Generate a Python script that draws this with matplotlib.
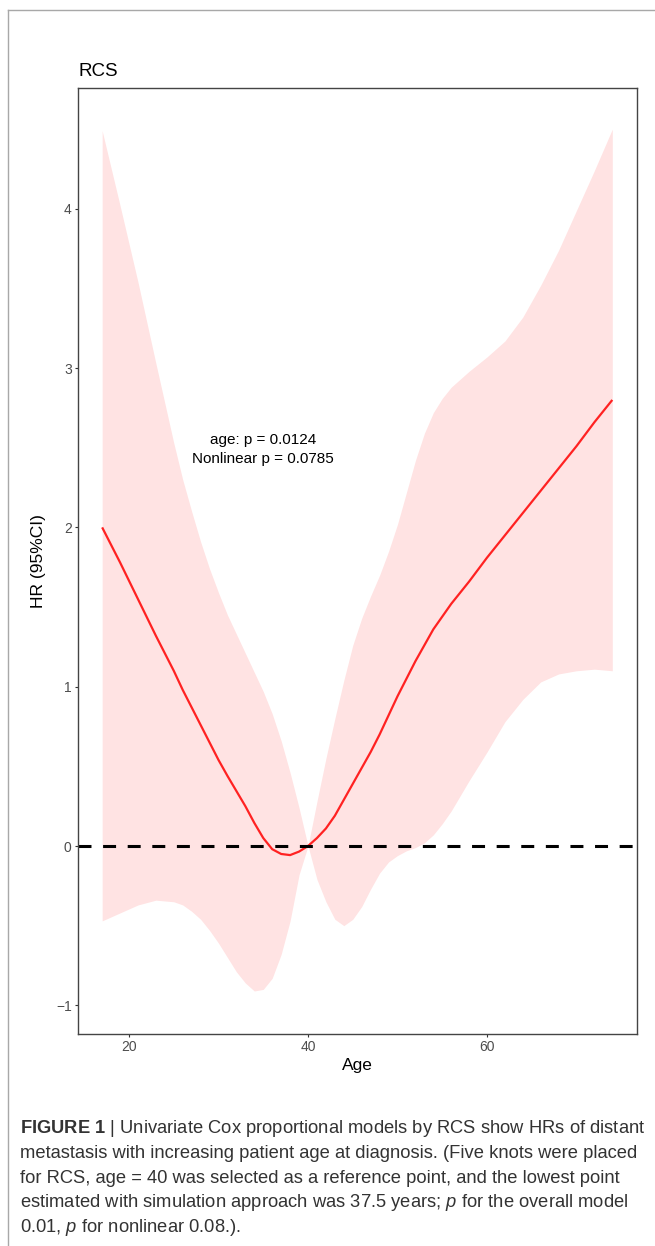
import matplotlib
matplotlib.use("Agg")
import matplotlib.pyplot as plt
from matplotlib.lines import Line2D

plt.rcParams['font.family'] = ['Liberation Sans', 'DejaVu Sans']
plt.rcParams['mathtext.fontset'] = 'custom'
plt.rcParams['mathtext.rm'] = 'Liberation Sans'
plt.rcParams['mathtext.it'] = 'Liberation Sans:italic'
plt.rcParams['mathtext.bf'] = 'Liberation Sans:bold'

# ---- data ----
age = [17, 19, 21, 23, 25, 26, 27, 28, 29, 30, 31, 32, 33, 34, 35, 36, 37, 38, 39, 40,
       41, 42, 43, 44, 45, 46, 47, 48, 49, 50, 51, 52, 53, 54, 55, 56, 58, 60, 62, 64,
       66, 68, 70, 72, 74]
hr_fit = [2.00, 1.78, 1.55, 1.32, 1.10, 0.98, 0.87, 0.76, 0.65, 0.54, 0.44, 0.345, 0.25, 0.145, 0.05, -0.02, -0.05, -0.057, -0.035, 0.00,
          0.05, 0.11, 0.19, 0.29, 0.39, 0.49, 0.59, 0.70, 0.82, 0.94, 1.05, 1.16, 1.26, 1.36, 1.44, 1.52, 1.66, 1.81, 1.95, 2.09,
          2.23, 2.37, 2.51, 2.66, 2.80]
hr_upper = [4.49, 4.02, 3.54, 3.03, 2.53, 2.30, 2.10, 1.91, 1.74, 1.59, 1.45, 1.33, 1.21, 1.09, 0.97, 0.83, 0.66, 0.46, 0.24, 0.00,
            0.28, 0.55, 0.80, 1.04, 1.26, 1.43, 1.57, 1.70, 1.85, 2.02, 2.22, 2.42, 2.59, 2.72, 2.81, 2.88, 2.98, 3.07, 3.17, 3.32,
            3.52, 3.74, 3.99, 4.24, 4.50]
hr_lower = [-0.47, -0.42, -0.37, -0.34, -0.35, -0.37, -0.41, -0.46, -0.53, -0.61, -0.70, -0.79, -0.86, -0.91, -0.90, -0.83, -0.68, -0.47, -0.18, 0.00,
            -0.21, -0.35, -0.46, -0.50, -0.46, -0.38, -0.27, -0.17, -0.10, -0.06, -0.03, -0.01, 0.02, 0.07, 0.14, 0.22, 0.41, 0.59, 0.78, 0.92,
            1.03, 1.08, 1.10, 1.11, 1.10]
x_ticks = [20, 40, 60]
y_ticks = [-1, 0, 1, 2, 3, 4]
y_tick_labels = ['\u22121', '0', '1', '2', '3', '4']
annot_lines = ["age: p = 0.0124", "Nonlinear p = 0.0785"]
caption_lines = [
    r"$\mathbf{FIGURE\ 1}$ | Univariate Cox proportional models by RCS show HRs of distant",
    "metastasis with increasing patient age at diagnosis. (Five knots were placed",
    "for RCS, age = 40 was selected as a reference point, and the lowest point",
    r"estimated with simulation approach was 37.5 years; $\mathit{p}$ for the overall model",
    r"0.01, $\mathit{p}$ for nonlinear 0.08.).",
]

W, H = 655, 1246
fig = plt.figure(figsize=(W / 100, H / 100), dpi=100)
fig.patch.set_facecolor('white')

ax = fig.add_axes([78 / W, 1 - 1034 / H, (637 - 78) / W, (1034 - 88) / H])
ax.fill_between(age, hr_lower, hr_upper, color='#FFE3E3', linewidth=0)
ax.plot(age, hr_fit, color='#FF2222', lw=1.6, solid_capstyle='butt', solid_joinstyle='round')
ax.axhline(0, color='black', lw=2.2, dashes=(4.25, 3.8))

ax.set_xlim(14.30, 76.76)
ax.set_ylim(-1.18, 4.758)
ax.set_xticks(x_ticks)
ax.set_yticks(y_ticks)
ax.set_yticklabels(y_tick_labels)
ax.tick_params(axis='both', colors='#333333', labelcolor='#4D4D4D', labelsize=10,
               length=2.5, width=0.8, pad=2)
for s in ax.spines.values():
    s.set_color('#444444')
    s.set_linewidth(1.0)

ax.set_xlabel('Age', fontsize=12.5, color='black', labelpad=3)
ax.set_ylabel('HR (95%CI)', fontsize=12.5, color='black', labelpad=7)
ax.set_title('RCS', fontsize=13.5, loc='left', x=0.0, pad=9, color='black')

ax.text(35, 2.49, "\n".join(annot_lines), ha='center', va='center', fontsize=11,
        color='black', linespacing=1.5)

# figure border (top and left only)
fig.add_artist(Line2D([8 / W, 1.0], [1 - 10 / H, 1 - 10 / H], color='#A8A8A8', lw=1.0,
                      transform=fig.transFigure))
fig.add_artist(Line2D([8 / W, 8 / W], [1 - 10 / H, 0.0], color='#A8A8A8', lw=1.0,
                      transform=fig.transFigure))

# caption
ys = [1133, 1158, 1183, 1207, 1232]
for yy, line in zip(ys, caption_lines):
    fig.text(20 / W, 1 - yy / H, line, ha='left', va='baseline', fontsize=13.2,
             color='#333333')

fig.savefig('out.png', dpi=100, facecolor='white')
